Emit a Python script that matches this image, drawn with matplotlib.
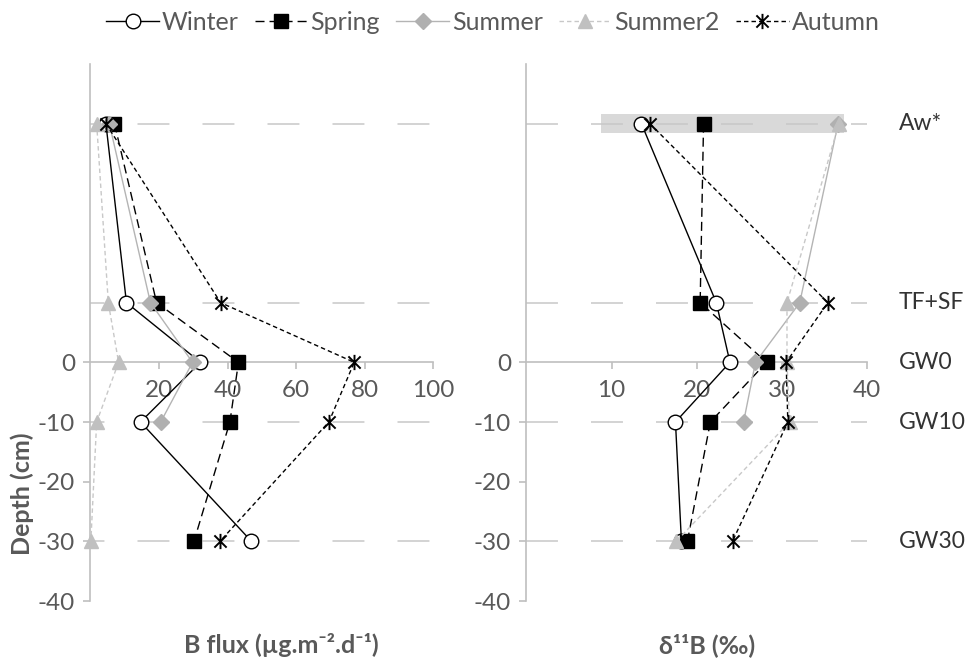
import numpy as np
import matplotlib
matplotlib.use("Agg")
import matplotlib.pyplot as plt
from matplotlib.path import Path
import matplotlib.transforms as mtransforms

plt.rcParams['font.family'] = ['Lato', 'DejaVu Sans']
plt.rcParams['lines.scale_dashes'] = False

# ---------------- data ----------------
depth = [40, 10, 0, -10, -30]
site_labels = ['Aw*', 'TF+SF', 'GW0', 'GW10', 'GW30']
series_names = ['Winter', 'Spring', 'Summer', 'Summer2', 'Autumn']

winter_flux = [4.5, 10.5, 32.1, 14.6, 47.0]
spring_flux = [7.0, 19.3, 43.2, 40.7, 30.2]
summer_flux = [5.5, 17.5, 29.8, 20.5, np.nan]
summer2_flux = [1.8, 5.2, 8.2, 1.8, 0.1]
autumn_flux = [4.5, 38.0, 77.0, 69.6, 37.8]

winter_d11 = [13.5, 22.3, 23.9, 17.5, 18.2]
spring_d11 = [20.8, 20.4, 28.2, 21.6, 18.9]
summer_d11 = [36.6, 32.1, 26.9, 25.5, np.nan]
summer2_d11 = [36.7, 30.6, 30.6, 30.9, 17.6]
autumn_d11 = [14.5, 35.4, 30.5, 30.7, 24.2]

band_x = [8.7, 37.3]
band_y = [38.4, 41.6]

flux_ticks = [20, 40, 60, 80, 100]
d11_ticks = [10, 20, 30, 40]
depth_ticks = [-40, -30, -20, -10, 0]
grid_levels = [40, 10, -10, -30]

# ---------------- styles ----------------
star = Path([(-1, -1), (1, 1), (-1, 1), (1, -1), (0, -1.25), (0, 1.25)],
            [Path.MOVETO, Path.LINETO, Path.MOVETO, Path.LINETO, Path.MOVETO, Path.LINETO])

styles = {
    'Winter': dict(color='black', lw=1.0, ls='-', marker='o', ms=10.5,
                   mfc='white', mec='black', mew=1.0),
    'Spring': dict(color='black', lw=1.0, ls=(0, (6.5, 3.6)), marker='s', ms=10,
                   mfc='black', mec='black', mew=1.0),
    'Summer': dict(color='#b4b4b4', lw=1.0, ls='-', marker='D', ms=8,
                   mfc='#b0b0b0', mec='#b0b0b0', mew=1.0),
    'Summer2': dict(color='#c8c8c8', lw=1.0, ls=(0, (3.2, 2.2)), marker='^', ms=10.5,
                    mfc='#c0c0c0', mec='#c0c0c0', mew=1.0),
    'Autumn': dict(color='black', lw=1.0, ls=(0, (3.2, 2.2)), marker=star, ms=11,
                   mfc='black', mec='black', mew=1.4),
}

W, H = 970, 662
fig = plt.figure(figsize=(W / 100, H / 100), dpi=100)

ax1 = fig.add_axes([90.5 / W, 1 - 601 / H, (433 - 90.5) / W, (601 - 64) / H])
ax2 = fig.add_axes([526.5 / W, 1 - 601 / H, (867 - 526.5) / W, (601 - 64) / H])

spine_c = '#bfbfbf'
txt_c = '#595959'
fs = 17.5

flux_data = [winter_flux, spring_flux, summer_flux, summer2_flux, autumn_flux]
d11_data = [winter_d11, spring_d11, summer_d11, summer2_d11, autumn_d11]

for ax, data, xmax, ticks, offset in [(ax1, flux_data, 100, flux_ticks, 12.6),
                                       (ax2, d11_data, 40, d11_ticks, 0.0)]:
    ax.set_xlim(0, xmax)
    ax.set_ylim(-40, 50)
    for lvl in grid_levels:
        ax.axhline(lvl, color='#c8c8c8', lw=1.1, ls=(offset, (23.0, 23.8)), zorder=1)
    for i, (name, vals) in enumerate(zip(series_names, data)):
        ax.plot(vals, depth, label=name, zorder=3 + i, clip_on=False, **styles[name])
    ax.spines['top'].set_visible(False)
    ax.spines['right'].set_visible(False)
    ax.spines['bottom'].set_position(('data', 0))
    for s in ['left', 'bottom']:
        ax.spines[s].set_color(spine_c)
        ax.spines[s].set_linewidth(1.2)
        ax.spines[s].set_zorder(2)
    ax.set_xticks(ticks)
    ax.set_xticklabels([str(t) for t in ticks])
    ax.set_yticks(depth_ticks)
    ax.set_yticklabels([str(t) for t in depth_ticks])
    ax.tick_params(axis='both', colors=spine_c, labelcolor=txt_c, labelsize=fs,
                   width=1.2, length=5, direction='out')
    ax.tick_params(axis='x', pad=8)
    ax.tick_params(axis='y', pad=6)
    ax.patch.set_alpha(0)

ax2.fill_between(band_x, band_y[0], band_y[1], color='#d9d9d9', lw=0, zorder=0.5)

trans = mtransforms.blended_transform_factory(fig.transFigure, ax2.transData)
for lab, d in zip(site_labels, depth):
    ax2.text(899 / W, d, lab, transform=trans, ha='left', va='center',
             fontsize=16.5, color='#333333')

fig.text(22 / W, 1 - 494 / H, 'Depth (cm)', rotation=90, ha='center', va='center',
         fontsize=18, fontweight='bold', color=txt_c)
fig.text(281 / W, 1 - 645 / H, 'B flux (µg.m⁻².d⁻¹)', ha='center', va='center',
         fontsize=18, fontweight='bold', color=txt_c)
fig.text(707 / W, 1 - 645 / H, 'δ¹¹B (‰)', ha='center', va='center',
         fontsize=18, fontweight='bold', color=txt_c)

handles, labels = ax1.get_legend_handles_labels()
leg = fig.legend(handles, labels, loc='center', bbox_to_anchor=(493 / W, 1 - 22 / H),
                 ncol=5, frameon=False, fontsize=18, handlelength=2.1,
                 handletextpad=0.12, columnspacing=0.65, borderaxespad=0)
for t in leg.get_texts():
    t.set_color(txt_c)

fig.savefig('out.png', dpi=100)
